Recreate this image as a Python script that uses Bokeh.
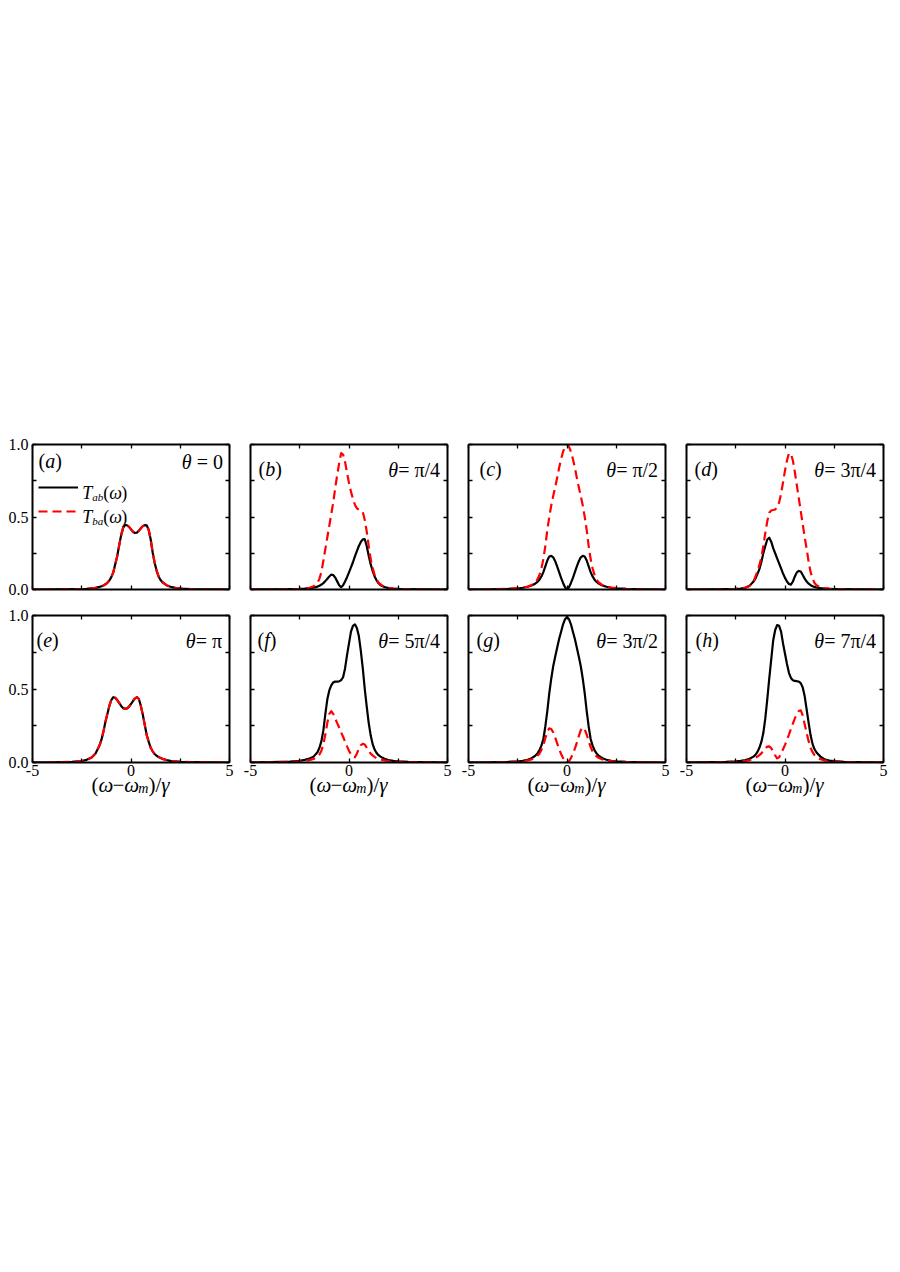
from bokeh.plotting import figure
from bokeh.models import (Range1d, LinearAxis, FixedTicker, PrintfTickFormatter,
                          CustomJSTickFormatter, Label, Legend, LegendItem)
from bokeh.layouts import row, column
from bokeh.embed import file_html
from bokeh.resources import INLINE

# ---------------- data ----------------
X = [-5, -4, -3, -2.5, -2.25, -2.0, -1.8, -1.6,
     -1.5, -1.4, -1.3, -1.2, -1.1, -1.0, -0.9, -0.8, -0.7, -0.6, -0.5, -0.4, -0.3, -0.2, -0.1,
     0.0, 0.1, 0.2, 0.3, 0.4, 0.5, 0.6, 0.7, 0.8, 0.9, 1.0, 1.1, 1.2, 1.3, 1.4, 1.5, 1.6,
     1.8, 2.0, 2.25, 2.5, 3, 4, 5]

# (a) theta = 0 : both curves coincide
A_AB = [0.000, 0.001, 0.002, 0.003, 0.004, 0.008, 0.011, 0.018,
        0.022, 0.028, 0.036, 0.046, 0.062, 0.085, 0.118, 0.175, 0.23, 0.305, 0.375, 0.425, 0.445, 0.443, 0.432,
        0.415, 0.398, 0.39, 0.392, 0.405, 0.422, 0.437, 0.444, 0.442, 0.41, 0.345, 0.255, 0.185, 0.13, 0.09, 0.066, 0.05,
        0.03, 0.019, 0.011, 0.007, 0.003, 0.001, 0.000]
A_BA = [0.000, 0.001, 0.002, 0.003, 0.004, 0.008, 0.011, 0.018,
        0.022, 0.028, 0.036, 0.046, 0.062, 0.085, 0.118, 0.175, 0.23, 0.305, 0.375, 0.425, 0.445, 0.443, 0.432,
        0.415, 0.398, 0.39, 0.392, 0.405, 0.422, 0.437, 0.444, 0.442, 0.41, 0.345, 0.255, 0.185, 0.13, 0.09, 0.066, 0.05,
        0.03, 0.019, 0.011, 0.007, 0.003, 0.001, 0.000]

# (b) theta = pi/4
B_AB = [0.000, 0.001, 0.002, 0.004, 0.006, 0.009, 0.013, 0.02,
        0.026, 0.034, 0.044, 0.058, 0.074, 0.09, 0.103, 0.1, 0.082, 0.056, 0.03, 0.016, 0.03, 0.055, 0.085,
        0.118, 0.152, 0.188, 0.228, 0.265, 0.3, 0.328, 0.346, 0.347, 0.3, 0.232, 0.175, 0.128, 0.09, 0.063, 0.043, 0.03,
        0.017, 0.01, 0.006, 0.004, 0.002, 0.001, 0.000]
B_BA = [0.000, 0.001, 0.003, 0.005, 0.008, 0.012, 0.022, 0.045,
        0.075, 0.12, 0.2, 0.28, 0.36, 0.44, 0.52, 0.6, 0.7, 0.79, 0.87, 0.94, 0.93, 0.88, 0.805,
        0.735, 0.675, 0.625, 0.585, 0.56, 0.55, 0.547, 0.535, 0.48, 0.4, 0.3, 0.21, 0.15, 0.1, 0.07, 0.048, 0.034,
        0.018, 0.011, 0.007, 0.004, 0.002, 0.001, 0.000]

# (c) theta = pi/2
C_AB = [0.000, 0.001, 0.004, 0.008, 0.012, 0.019, 0.028, 0.042,
        0.053, 0.068, 0.09, 0.12, 0.16, 0.2, 0.228, 0.232, 0.222, 0.195, 0.16, 0.12, 0.08, 0.045, 0.015,
        0.0, 0.015, 0.045, 0.08, 0.12, 0.16, 0.195, 0.222, 0.232, 0.228, 0.2, 0.16, 0.12, 0.09, 0.068, 0.053, 0.042,
        0.028, 0.019, 0.012, 0.008, 0.004, 0.001, 0.000]
C_BA = [0.000, 0.001, 0.004, 0.009, 0.013, 0.02, 0.03, 0.05,
        0.07, 0.1, 0.145, 0.21, 0.3, 0.41, 0.5, 0.58, 0.645, 0.705, 0.77, 0.84, 0.9, 0.95, 0.985,
        1.0, 0.985, 0.95, 0.9, 0.84, 0.77, 0.705, 0.645, 0.58, 0.5, 0.41, 0.3, 0.21, 0.145, 0.1, 0.07, 0.05,
        0.03, 0.02, 0.013, 0.009, 0.004, 0.001, 0.000]

# (d) theta = 3pi/4
D_AB = [0.000, 0.001, 0.002, 0.004, 0.007, 0.013, 0.025, 0.055,
        0.075, 0.106, 0.14, 0.19, 0.25, 0.3, 0.345, 0.357, 0.33, 0.285, 0.25, 0.215, 0.18, 0.145, 0.11,
        0.08, 0.055, 0.038, 0.034, 0.055, 0.09, 0.118, 0.128, 0.124, 0.1, 0.075, 0.055, 0.04, 0.03, 0.023, 0.018, 0.014,
        0.009, 0.006, 0.004, 0.003, 0.002, 0.001, 0.000]
D_BA = [0.000, 0.001, 0.002, 0.004, 0.007, 0.012, 0.025, 0.055,
        0.09, 0.125, 0.17, 0.22, 0.3, 0.39, 0.47, 0.53, 0.545, 0.548, 0.552, 0.565, 0.6, 0.66, 0.74,
        0.82, 0.89, 0.94, 0.935, 0.89, 0.81, 0.72, 0.63, 0.54, 0.45, 0.36, 0.28, 0.19, 0.12, 0.075, 0.045, 0.03,
        0.016, 0.01, 0.006, 0.004, 0.002, 0.001, 0.000]

# (e) theta = pi : both curves coincide
E_AB = [0.000, 0.001, 0.004, 0.01, 0.018, 0.034, 0.062, 0.115,
        0.155, 0.21, 0.275, 0.33, 0.385, 0.425, 0.444, 0.44, 0.425, 0.405, 0.385, 0.37, 0.365, 0.368, 0.38,
        0.398, 0.418, 0.435, 0.445, 0.432, 0.385, 0.325, 0.255, 0.185, 0.14, 0.1, 0.076, 0.058, 0.046, 0.037, 0.031, 0.025,
        0.017, 0.011, 0.007, 0.005, 0.003, 0.001, 0.000]
E_BA = [0.000, 0.001, 0.004, 0.01, 0.018, 0.034, 0.062, 0.115,
        0.155, 0.21, 0.275, 0.33, 0.385, 0.425, 0.444, 0.44, 0.425, 0.405, 0.385, 0.37, 0.365, 0.368, 0.38,
        0.398, 0.418, 0.435, 0.445, 0.432, 0.385, 0.325, 0.255, 0.185, 0.14, 0.1, 0.076, 0.058, 0.046, 0.037, 0.031, 0.025,
        0.017, 0.011, 0.007, 0.005, 0.003, 0.001, 0.000]

# (f) theta = 5pi/4
F_AB = [0.000, 0.002, 0.006, 0.012, 0.018, 0.027, 0.04, 0.07,
        0.1, 0.145, 0.22, 0.33, 0.43, 0.49, 0.525, 0.545, 0.55, 0.55, 0.552, 0.56, 0.58, 0.64, 0.73,
        0.81, 0.89, 0.93, 0.94, 0.915, 0.86, 0.76, 0.64, 0.5, 0.38, 0.27, 0.185, 0.125, 0.088, 0.065, 0.05, 0.04,
        0.025, 0.017, 0.011, 0.008, 0.004, 0.002, 0.000]
F_BA = [0.000, 0.001, 0.004, 0.008, 0.011, 0.016, 0.024, 0.04,
        0.055, 0.08, 0.125, 0.19, 0.27, 0.33, 0.35, 0.33, 0.3, 0.268, 0.238, 0.205, 0.175, 0.142, 0.11,
        0.08, 0.055, 0.038, 0.036, 0.06, 0.095, 0.118, 0.127, 0.122, 0.1, 0.078, 0.06, 0.048, 0.038, 0.03, 0.025, 0.02,
        0.014, 0.01, 0.007, 0.005, 0.003, 0.001, 0.000]

# (g) theta = 3pi/2
G_AB = [0.000, 0.001, 0.004, 0.008, 0.012, 0.019, 0.029, 0.047,
        0.062, 0.083, 0.115, 0.16, 0.245, 0.35, 0.47, 0.57, 0.655, 0.72, 0.78, 0.84, 0.89, 0.94, 0.975,
        0.99, 0.975, 0.94, 0.89, 0.84, 0.78, 0.72, 0.655, 0.57, 0.47, 0.35, 0.245, 0.16, 0.115, 0.083, 0.062, 0.047,
        0.029, 0.019, 0.012, 0.008, 0.004, 0.001, 0.000]
G_BA = [0.000, 0.001, 0.003, 0.006, 0.009, 0.014, 0.021, 0.035,
        0.045, 0.06, 0.085, 0.12, 0.165, 0.21, 0.232, 0.228, 0.205, 0.17, 0.13, 0.092, 0.058, 0.03, 0.01,
        0.0, 0.01, 0.03, 0.06, 0.095, 0.135, 0.18, 0.22, 0.238, 0.225, 0.19, 0.145, 0.105, 0.075, 0.055, 0.042, 0.032,
        0.02, 0.013, 0.009, 0.006, 0.003, 0.001, 0.000]

# (h) theta = 7pi/4
H_AB = [0.000, 0.002, 0.004, 0.008, 0.011, 0.016, 0.025, 0.04,
        0.052, 0.072, 0.1, 0.14, 0.2, 0.3, 0.43, 0.57, 0.7, 0.83, 0.9, 0.935, 0.93, 0.89, 0.81,
        0.74, 0.67, 0.61, 0.575, 0.56, 0.555, 0.553, 0.55, 0.54, 0.51, 0.45, 0.36, 0.27, 0.185, 0.125, 0.09, 0.068,
        0.04, 0.022, 0.013, 0.009, 0.005, 0.002, 0.000]
H_BA = [0.000, 0.001, 0.003, 0.005, 0.007, 0.011, 0.016, 0.025,
        0.032, 0.04, 0.05, 0.062, 0.078, 0.095, 0.108, 0.11, 0.098, 0.075, 0.048, 0.028, 0.035, 0.06, 0.09,
        0.12, 0.155, 0.19, 0.228, 0.265, 0.3, 0.33, 0.35, 0.355, 0.32, 0.26, 0.2, 0.145, 0.1, 0.07, 0.05, 0.036,
        0.022, 0.014, 0.009, 0.006, 0.003, 0.001, 0.000]

PANEL_KEYS = ["a", "b", "c", "d", "e", "f", "g", "h"]
THETA_TEXT = ["= 0", "= \u03c0/4", "= \u03c0/2", "= 3\u03c0/4",
              "= \u03c0", "= 5\u03c0/4", "= 3\u03c0/2", "= 7\u03c0/4"]
SERIES_AB = [A_AB, B_AB, C_AB, D_AB, E_AB, F_AB, G_AB, H_AB]
SERIES_BA = [A_BA, B_BA, C_BA, D_BA, E_BA, F_BA, G_BA, H_BA]

X_TICKS = [-5, 0, 5]
X_MINOR = [-2.5, 2.5]
Y_TICKS = [0, 0.5, 1.0]
Y_MINOR = [0.25, 0.75]

# ---------------- styling ----------------
FONT = "Liberation Serif"
RED = "#ff0000"
FW = 197
LABEL_X = [6, 8, 11, 8, 4, 7, 8, 9]

W_REG = {"(": 0.333, ")": 0.333, "=": 0.564, " ": 0.25, "\u03c0": 0.55, "/": 0.278,
         "\u2212": 0.564}
W_ITA = {"\u03b8": 0.5, "\u03c9": 0.667, "\u03b3": 0.444, "T": 0.556, "a": 0.5, "b": 0.5,
         "c": 0.444, "d": 0.5, "e": 0.444, "f": 0.278, "g": 0.5, "h": 0.5, "m": 0.722}


def text_width(t, size, ital):
    if t is None:          # pure horizontal gap of `size` px
        return size
    tab = W_ITA if ital else W_REG
    return sum(tab.get(ch, W_REG.get(ch, 0.5)) for ch in t) * size


def rich(p, pieces, x0, base, fw, fh, align="left", place=None):
    """pieces: (text, size_px, italic, baseline_shift_px); x0/base in px from frame top-left."""
    total = sum(text_width(t, s, i) for t, s, i, d in pieces)
    if align == "right":
        x = x0 - total
    elif align == "center":
        x = x0 - total / 2.0
    else:
        x = x0
    for t, s, i, d in pieces:
        if t is not None:
            lab = Label(x=-5 + x * 10.0 / fw, y=1 - (base + d) / fh, text=t,
                        text_font=FONT, text_font_size=f"{s}px",
                        text_font_style="italic" if i else "normal",
                        text_color="black", text_baseline="alphabetic",
                        text_align="left")
            if place is None:
                p.add_layout(lab)
            else:
                p.add_layout(lab, place)
        x += text_width(t, s, i)


def cfg_axis(ax, ticks, minor, fmt):
    ax.ticker = FixedTicker(ticks=ticks, minor_ticks=minor)
    ax.axis_line_width = 2
    ax.axis_line_color = "black"
    ax.major_tick_in = 4
    ax.major_tick_out = 0
    ax.minor_tick_in = 4
    ax.minor_tick_out = 0
    ax.major_tick_line_width = 1.3
    ax.minor_tick_line_width = 1.3
    ax.major_tick_line_color = "black"
    ax.minor_tick_line_color = "black"
    ax.axis_label = None
    if fmt is None:
        ax.formatter = CustomJSTickFormatter(code="return ''")
        ax.major_label_standoff = 0
        ax.major_label_text_font_size = "0px"
    else:
        ax.formatter = PrintfTickFormatter(format=fmt)
        ax.major_label_text_font = FONT
        ax.major_label_text_font_size = "16px"
        ax.major_label_text_color = "black"


figs = []
for i, key in enumerate(PANEL_KEYS):
    r, c = divmod(i, 4)
    fh = 145 if r == 0 else 147
    p = figure(frame_width=FW, frame_height=fh,
               x_range=Range1d(-5, 5), y_range=Range1d(0, 1),
               min_border_left=32 if c == 0 else 11,
               min_border_right=8 if c == 3 else 10,
               min_border_top=444 if r == 0 else 13,
               min_border_bottom=13 if r == 0 else 40,
               output_backend="svg", toolbar_location=None,
               outline_line_color=None, background_fill_color="white",
               border_fill_color="white")
    p.xgrid.visible = False
    p.ygrid.visible = False

    cfg_axis(p.xaxis[0], X_TICKS, X_MINOR, "%d" if r == 1 else None)
    if r == 1:
        p.xaxis[0].major_label_standoff = 2
    cfg_axis(p.yaxis[0], Y_TICKS, Y_MINOR, "%.1f" if c == 0 else None)
    if c == 0:
        p.yaxis[0].major_label_standoff = 4
    top_ax = LinearAxis()
    cfg_axis(top_ax, X_TICKS, X_MINOR, None)
    p.add_layout(top_ax, "above")
    right_ax = LinearAxis()
    cfg_axis(right_ax, Y_TICKS, Y_MINOR, None)
    p.add_layout(right_ax, "right")

    rb = p.line(X, SERIES_AB[i], line_color="black", line_width=2.2, line_join="round")
    rr = p.line(X, SERIES_BA[i], line_color=RED, line_width=2.2, line_dash="9 5",
                line_join="round")

    # panel label and theta label
    base = 16 if key == "a" else 24
    rich(p, [("(", 20, False, 0), (key, 20, True, 0), (")", 20, False, 0)],
         LABEL_X[i], base, FW, fh)
    theta_pieces = [("\u03b8", 20, True, 0)]
    if key == "a":
        theta_pieces.append((None, 5, False, 0))
    theta_pieces.append((THETA_TEXT[i], 20, False, 0))
    rich(p, theta_pieces, FW - 6.5, base + 1.5, FW, fh, align="right")

    if key == "a":
        legend = Legend(items=[LegendItem(label=" ", renderers=[rb]),
                               LegendItem(label=" ", renderers=[rr])],
                        location=(6, 68), glyph_width=40, glyph_height=20,
                        label_height=20, label_width=1, label_standoff=0,
                        spacing=4, padding=0, margin=0,
                        border_line_alpha=0, background_fill_alpha=0,
                        label_text_font_size="8px")
        p.add_layout(legend)
        for k, sub in enumerate(["ab", "ba"]):
            yb = 48 + 24.3 * k
            rich(p, [("T", 18, True, 0), (sub, 11, True, 4),
                     ("(", 18, False, 0), ("\u03c9", 18, True, 0), (")", 18, False, 0)],
                 49.7, yb, FW, fh)

    if r == 1:
        # x-axis title, placed in the panel below the frame
        rich(p, [("(", 21, False, 0), ("\u03c9", 21, True, 0), ("\u2212", 21, False, 0),
                 ("\u03c9", 21, True, 0), ("m", 14, True, 4), (")/", 21, False, 0),
                 ("\u03b3", 21, True, 0)],
             FW / 2.0, fh + 22, FW, fh, align="center", place="below")
    figs.append(p)

layout = column(row(*figs[:4]), row(*figs[4:]))
open("out.html", "w").write(file_html(layout, INLINE))
